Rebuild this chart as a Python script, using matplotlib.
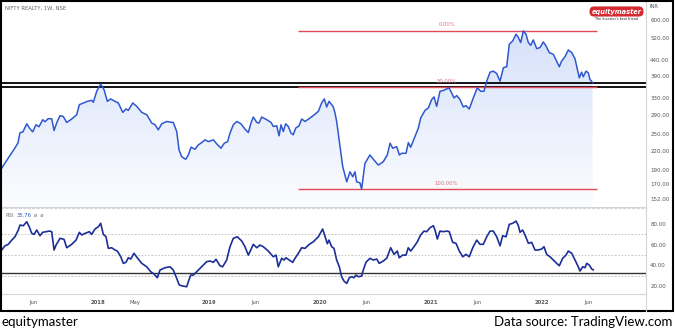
import numpy as np
import matplotlib
matplotlib.use('Agg')
import matplotlib.pyplot as plt
from matplotlib.colors import LinearSegmentedColormap
from matplotlib.patches import Polygon, Rectangle
from matplotlib.lines import Line2D
from matplotlib.ticker import FixedLocator, NullLocator, FuncFormatter

# weekly close, NIFTY REALTY (x in decimal years)
price_year = [
    2017.132, 2017.162, 2017.192, 2017.223, 2017.252, 2017.279, 2017.297, 2017.324, 2017.358, 2017.387,
    2017.412, 2017.441, 2017.468, 2017.502, 2017.523, 2017.550, 2017.583, 2017.604, 2017.628, 2017.658,
    2017.687, 2017.718, 2017.763, 2017.808, 2017.832, 2017.868, 2017.904, 2017.943, 2017.958, 2017.988,
    2018.024, 2018.054, 2018.084, 2018.114, 2018.153, 2018.183, 2018.223, 2018.252, 2018.273, 2018.313,
    2018.349, 2018.394, 2018.439, 2018.484, 2018.514, 2018.543, 2018.574, 2018.619, 2018.649, 2018.678,
    2018.709, 2018.730, 2018.754, 2018.790, 2018.814, 2018.838, 2018.874, 2018.904, 2018.934, 2018.964,
    2018.994, 2019.039, 2019.070, 2019.108, 2019.138, 2019.168, 2019.189, 2019.219, 2019.250, 2019.288,
    2019.324, 2019.354, 2019.378, 2019.399, 2019.430, 2019.450, 2019.475, 2019.520, 2019.559, 2019.579,
    2019.610, 2019.631, 2019.649, 2019.669, 2019.691, 2019.714, 2019.739, 2019.759, 2019.781, 2019.811,
    2019.835, 2019.865, 2019.910, 2019.949, 2019.985, 2020.015, 2020.039, 2020.060, 2020.081, 2020.105,
    2020.120, 2020.135, 2020.150, 2020.180, 2020.205, 2020.241, 2020.270, 2020.295, 2020.315, 2020.330,
    2020.360, 2020.375, 2020.405, 2020.450, 2020.486, 2020.525, 2020.570, 2020.606, 2020.631, 2020.655,
    2020.691, 2020.715, 2020.736, 2020.775, 2020.796, 2020.817, 2020.856, 2020.886, 2020.907, 2020.946,
    2020.976, 2021.006, 2021.027, 2021.051, 2021.081, 2021.117, 2021.162, 2021.186, 2021.207, 2021.232,
    2021.261, 2021.291, 2021.315, 2021.345, 2021.381, 2021.417, 2021.448, 2021.477, 2021.502, 2021.532,
    2021.561, 2021.592, 2021.622, 2021.652, 2021.682, 2021.705, 2021.736, 2021.766, 2021.787, 2021.808,
    2021.832, 2021.856, 2021.877, 2021.898, 2021.922, 2021.952, 2021.982, 2022.012, 2022.036, 2022.066,
    2022.102, 2022.132, 2022.156, 2022.177, 2022.207, 2022.237, 2022.268, 2022.297, 2022.312, 2022.336,
    2022.357, 2022.372, 2022.396, 2022.417, 2022.432, 2022.456]
price = [
    192.3, 200.3, 208.1, 216.4, 224.9, 233.7, 252.4, 254.4, 270.5, 260.3,
    254.4, 268.5, 264.4, 279.1, 274.8, 281.2, 281.2, 256.9, 272.6, 287.8,
    286.2, 273.3, 280.6, 290.0, 313.2, 317.3, 321.3, 323.8, 318.9, 347.0,
    367.0, 351.7, 321.3, 327.3, 321.3, 317.3, 295.2, 303.0, 299.8, 317.3,
    309.2, 295.2, 290.0, 272.0, 268.5, 258.3, 270.5, 275.4, 274.1, 273.3,
    255.0, 221.4, 210.2, 206.1, 213.0, 226.1, 222.6, 230.1, 234.2, 239.2,
    236.0, 239.2, 231.9, 224.3, 233.2, 236.0, 251.8, 268.5, 275.4, 270.5,
    259.7, 253.0, 272.0, 284.9, 273.3, 272.0, 284.9, 279.1, 273.3, 265.0,
    266.4, 246.7, 268.5, 255.0, 270.5, 265.0, 251.8, 248.6, 261.7, 266.4,
    280.6, 275.4, 282.7, 290.0, 297.5, 317.3, 327.3, 307.7, 321.3, 313.2,
    307.7, 293.8, 275.4, 227.1, 194.6, 173.4, 187.3, 180.2, 187.3, 173.4,
    172.1, 164.0, 199.8, 213.0, 205.0, 197.2, 202.3, 213.0, 233.2, 224.3,
    227.1, 213.0, 215.8, 215.8, 234.2, 226.1, 245.3, 261.7, 282.7, 299.8,
    305.4, 325.6, 332.4, 309.2, 347.0, 349.8, 356.3, 342.8, 329.9, 335.8,
    325.6, 307.7, 310.9, 303.0, 329.9, 356.3, 347.0, 347.0, 374.9, 401.8,
    404.9, 397.8, 374.9, 415.7, 418.9, 497.5, 510.3, 537.4, 523.8, 504.1,
    551.0, 537.4, 504.1, 493.7, 514.3, 481.3, 485.0, 506.4, 491.0, 466.7,
    460.6, 437.4, 418.9, 437.4, 452.5, 476.1, 466.7, 445.6, 420.8, 384.8,
    401.8, 387.8, 404.9, 400.0, 379.8, 371.0]

# RSI(14) on the weekly closes
rsi_year = [
    2017.132, 2017.162, 2017.192, 2017.223, 2017.252, 2017.282, 2017.297, 2017.327, 2017.358, 2017.380,
    2017.403, 2017.423, 2017.448, 2017.477, 2017.502, 2017.532, 2017.561, 2017.583, 2017.604, 2017.622,
    2017.658, 2017.694, 2017.718, 2017.763, 2017.802, 2017.832, 2017.853, 2017.883, 2017.922, 2017.943,
    2017.973, 2018.003, 2018.024, 2018.048, 2018.072, 2018.093, 2018.123, 2018.153, 2018.174, 2018.205,
    2018.228, 2018.252, 2018.273, 2018.295, 2018.324, 2018.354, 2018.394, 2018.439, 2018.475, 2018.505,
    2018.534, 2018.559, 2018.604, 2018.649, 2018.678, 2018.709, 2018.732, 2018.763, 2018.799, 2018.814,
    2018.835, 2018.859, 2018.889, 2018.919, 2018.949, 2018.979, 2019.009, 2019.039, 2019.063, 2019.099,
    2019.123, 2019.159, 2019.189, 2019.219, 2019.255, 2019.295, 2019.324, 2019.354, 2019.376, 2019.399,
    2019.430, 2019.459, 2019.489, 2019.534, 2019.579, 2019.604, 2019.624, 2019.655, 2019.676, 2019.694,
    2019.723, 2019.754, 2019.775, 2019.805, 2019.835, 2019.865, 2019.904, 2019.940, 2019.985, 2020.024,
    2020.045, 2020.066, 2020.081, 2020.105, 2020.126, 2020.150, 2020.174, 2020.195, 2020.216, 2020.241,
    2020.264, 2020.286, 2020.306, 2020.324, 2020.345, 2020.376, 2020.385, 2020.414, 2020.450, 2020.480,
    2020.511, 2020.534, 2020.570, 2020.601, 2020.637, 2020.667, 2020.696, 2020.714, 2020.745, 2020.775,
    2020.795, 2020.817, 2020.847, 2020.877, 2020.907, 2020.937, 2020.961, 2020.991, 2021.021, 2021.036,
    2021.057, 2021.081, 2021.111, 2021.141, 2021.165, 2021.195, 2021.225, 2021.255, 2021.286, 2021.315,
    2021.345, 2021.376, 2021.412, 2021.441, 2021.471, 2021.502, 2021.532, 2021.561, 2021.592, 2021.622,
    2021.646, 2021.676, 2021.705, 2021.736, 2021.766, 2021.787, 2021.802, 2021.826, 2021.847, 2021.877,
    2021.907, 2021.937, 2021.967, 2021.997, 2022.018, 2022.042, 2022.072, 2022.102, 2022.132, 2022.156,
    2022.186, 2022.216, 2022.237, 2022.268, 2022.297, 2022.327, 2022.342, 2022.367, 2022.387, 2022.403,
    2022.426, 2022.448, 2022.462]
rsi = [
    54.9, 59.0, 60.4, 64.5, 67.7, 74.2, 79.0, 78.4, 82.2, 77.4,
    71.0, 70.0, 74.2, 68.7, 72.0, 72.6, 73.2, 72.6, 54.9, 59.7,
    66.2, 65.2, 57.1, 60.4, 64.5, 72.0, 69.4, 71.0, 72.6, 70.0,
    75.2, 77.4, 80.7, 70.0, 67.7, 56.5, 57.1, 54.9, 53.9, 48.4,
    42.0, 43.0, 47.4, 46.2, 51.7, 47.4, 42.0, 38.7, 33.9, 31.7,
    28.1, 35.6, 37.8, 38.7, 35.6, 27.5, 21.1, 20.1, 19.4, 24.3,
    30.7, 30.7, 33.9, 37.2, 40.4, 43.6, 44.3, 43.0, 45.9, 39.7,
    38.7, 45.2, 58.1, 66.2, 67.7, 63.6, 58.1, 50.0, 54.9, 60.4,
    57.1, 59.7, 58.1, 53.9, 48.4, 50.0, 38.7, 46.9, 45.2, 47.4,
    45.2, 43.0, 46.9, 51.7, 57.1, 56.5, 60.4, 62.9, 67.7, 75.2,
    68.0, 61.0, 64.5, 58.1, 56.5, 45.2, 38.7, 29.1, 24.9, 22.6,
    28.1, 29.1, 28.1, 30.7, 29.1, 29.8, 33.9, 43.0, 46.9, 45.2,
    46.2, 42.0, 44.3, 46.9, 57.1, 50.7, 53.9, 47.4, 50.0, 50.0,
    57.1, 53.9, 58.1, 62.9, 69.4, 73.2, 72.6, 76.4, 78.4, 74.2,
    65.5, 73.2, 72.6, 73.2, 72.6, 62.3, 61.4, 53.9, 48.4, 50.7,
    48.4, 57.1, 64.5, 60.4, 60.4, 67.7, 73.2, 73.2, 67.7, 59.0,
    68.7, 67.7, 79.7, 80.7, 82.9, 78.4, 72.0, 74.2, 69.4, 61.4,
    62.3, 54.9, 54.9, 55.9, 58.1, 50.7, 48.4, 45.2, 42.0, 39.7,
    46.9, 50.0, 53.9, 51.7, 45.2, 38.7, 34.6, 38.7, 37.8, 42.0,
    40.4, 36.5, 35.76]

price_ticks = [152, 170, 190, 220, 250, 290, 330, 390, 440, 520, 600]
rsi_ticks = [20, 40, 60, 80]
rsi_bands = [70, 50, 30]
time_ticks = [2017.414, 2018.0, 2018.329, 2019.0, 2019.414, 2020.0,
              2020.415, 2021.0, 2021.414, 2022.0, 2022.414]
time_labels = ["Jun", "2018", "May", "2019", "Jun", "2020",
               "Jun", "2021", "Jun", "2022", "Jun"]

support_levels = [371, 358]   # horizontal zone on price
rsi_support = 33
fib_start, fib_end = 2019.80, 2022.50
fib_label_x = 2021.14

X0, X1 = 2017.126, 2022.937

W, H = 675, 332
fig = plt.figure(figsize=(W / 100, H / 100), dpi=100)


def fx(px):
    return px / W


def fy(py):
    return 1 - py / H


ax_p = fig.add_axes([fx(1), fy(207), fx(646) - fx(1), fy(1) - fy(207)])
ax_r = fig.add_axes([fx(1), fy(294), fx(646) - fx(1), fy(208) - fy(294)])

grid_c = '#d4d4d4'
tick_c = '#555555'
fmt2 = FuncFormatter(lambda v, _: f"{v:.2f}")

# ---- price pane ----
ax_p.set_yscale('log')
ax_p.set_xlim(X0, X1)
ax_p.set_ylim(143, 693)

line_c = '#2f58cf'
ybot = 100
verts = [(price_year[0], ybot)] + list(zip(price_year, price)) + [(price_year[-1], ybot)]
clip = Polygon(verts, closed=True, facecolor='none', edgecolor='none', transform=ax_p.transData)
ax_p.add_patch(clip)
cmap = LinearSegmentedColormap.from_list(
    'area', [(0.22, 0.42, 0.90, 0.02), (0.22, 0.42, 0.90, 0.24)])
grad = np.linspace(1, 0, 256).reshape(-1, 1)
im = ax_p.imshow(grad, cmap=cmap, extent=[0, 1, 0, 1], transform=ax_p.transAxes,
                 aspect='auto', interpolation='bilinear', zorder=1)
im.set_clip_path(clip)
ax_p.set_xlim(X0, X1)
ax_p.set_ylim(143, 693)

ax_p.plot(price_year, price, color=line_c, lw=1.1, zorder=4)

for lvl in support_levels:
    ax_p.axhline(lvl, color='black', lw=1.3, zorder=2)

hi, lo = max(price), min(price)
fib = [(hi, "0.00%"), ((hi + lo) / 2, "50.00%"), (lo, "100.00%")]
fib_c = '#e34b5b'
for lvl, lab in fib:
    ax_p.hlines(lvl, fib_start, fib_end, color=fib_c, lw=1.0, zorder=3)
    ax_p.annotate(lab, (fib_label_x, lvl), xytext=(0, 2.5), textcoords='offset points',
                  ha='center', va='bottom', fontsize=3.8, color='#e07080', zorder=5)

ax_p.yaxis.tick_right()
ax_p.yaxis.set_major_locator(FixedLocator(price_ticks))
ax_p.yaxis.set_minor_locator(NullLocator())
ax_p.yaxis.set_major_formatter(fmt2)
ax_p.yaxis.set_minor_formatter(FuncFormatter(lambda v, _: ""))
ax_p.tick_params(axis='y', length=0, labelsize=4, colors=tick_c, pad=3)
ax_p.set_xticks([])
for s in ['top', 'left']:
    ax_p.spines[s].set_visible(False)
ax_p.spines['right'].set_color(grid_c)
ax_p.spines['bottom'].set_color(grid_c)
ax_p.spines['right'].set_linewidth(0.8)
ax_p.spines['bottom'].set_linewidth(0.8)

# ---- RSI pane ----
ax_r.set_xlim(X0, X1)
ax_r.set_ylim(12.4, 95.5)
for b in rsi_bands:
    ax_r.axhline(b, color='#b8b8b8', lw=0.6, ls=(0, (2, 2)), zorder=1)
ax_r.axhline(rsi_support, color='#333333', lw=1.0, zorder=2)
ax_r.plot(rsi_year, rsi, color='#1b2f96', lw=1.2, zorder=3)

ax_r.yaxis.tick_right()
ax_r.yaxis.set_major_locator(FixedLocator(rsi_ticks))
ax_r.yaxis.set_major_formatter(fmt2)
ax_r.tick_params(axis='y', length=0, labelsize=4, colors=tick_c, pad=3)
ax_r.set_xticks(time_ticks)
ax_r.set_xticklabels(time_labels)
ax_r.tick_params(axis='x', length=0, labelsize=3.8, colors=tick_c, pad=4.5)
for t, lab in zip(ax_r.get_xticklabels(), time_labels):
    if lab.isdigit():
        t.set_fontweight('bold')
ax_r.spines['left'].set_visible(False)
ax_r.spines['top'].set_color(grid_c)
ax_r.spines['top'].set_linestyle((0, (2, 2)))
for s in ['right', 'bottom']:
    ax_r.spines[s].set_color(grid_c)
    ax_r.spines[s].set_linewidth(0.8)

# ---- labels and frame ----
fig.text(fx(5), fy(8), "NIFTY REALTY, 1W, NSE", fontsize=3.8, color='#666666', va='center')
fig.text(fx(650), fy(6), "INR", fontsize=3.8, color=tick_c, va='center')
fig.text(fx(5), fy(215.5), "RSI", fontsize=3.8, color='#777777', va='center')
fig.text(fx(16.5), fy(215.5), f"{rsi[-1]:.2f}", fontsize=3.8, color='#2f56c9', va='center')
fig.text(fx(33.5), fy(215.5), "ø  ø", fontsize=3.8, color='#777777', va='center')

fig.text(fx(616.5), fy(11.5), "equitymaster", fontsize=4.8, color='white', weight='bold',
         style='italic', ha='center', va='center',
         bbox=dict(boxstyle='round,pad=0.3,rounding_size=0.7', fc='#d42a30', ec='none'))
fig.text(fx(616.5), fy(18.5), "The Investor's best friend", fontsize=2.4, color='#222222',
         ha='center', va='center')

fig.add_artist(Line2D([fx(646), fx(646)], [fy(294), fy(311)], color=grid_c, lw=0.8))
fig.add_artist(Rectangle((fx(0.8), fy(311)), fx(673.4) - fx(0.8), fy(0.8) - fy(311),
                         transform=fig.transFigure, fill=False, ec='black', lw=1.5))

fig.text(fx(2), fy(322), "equitymaster", fontsize=9.5, family='Lato', color='black', va='center')
fig.text(fx(672), fy(322), "Data source: TradingView.com", fontsize=9.5, family='Lato',
         color='black', va='center', ha='right')

fig.savefig('out.png', dpi=100)
